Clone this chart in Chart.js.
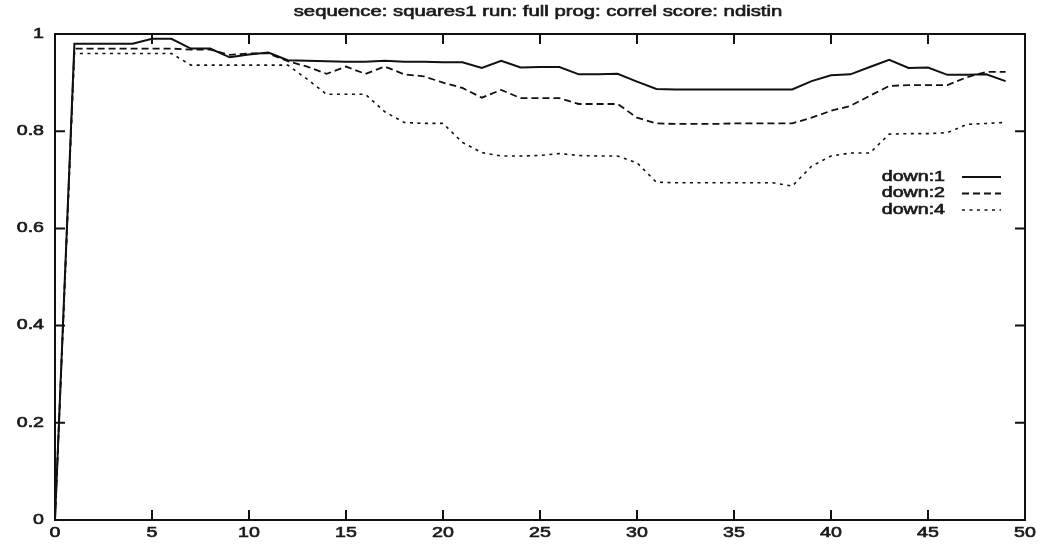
<!DOCTYPE html>
<html>
<head>
<meta charset="utf-8">
<script src="https://cdn.jsdelivr.net/npm/chart.js@4.4.0/dist/chart.umd.min.js"></script>
<style>
  html, body { margin: 0; padding: 0; background: #fff; }
  #wrap { width: 1044px; height: 548px; }
</style>
</head>
<body>
<div id="wrap"><canvas id="myChart1" width="1044" height="548"></canvas></div>
<script>
var titleText = "sequence: squares1 run: full prog: correl score: ndistin";
var seriesNames = ["down:1", "down:2", "down:4"];
var steps = [0, 1, 2, 3, 4, 5, 6, 7, 8, 9, 10, 11, 12, 13, 14, 15, 16, 17, 18, 19, 20, 21, 22, 23, 24,
  25, 26, 27, 28, 29, 30, 31, 32, 33, 34, 35, 36, 37, 38, 39, 40, 41, 42, 43, 44, 45, 46, 47, 48, 49];
var down1 = [0, 0.98, 0.98, 0.98, 0.98, 0.99, 0.99, 0.97, 0.97, 0.952, 0.958, 0.962, 0.946, 0.945, 0.944,
  0.943, 0.943, 0.945, 0.943, 0.943, 0.942, 0.942, 0.93, 0.945, 0.931, 0.932, 0.932, 0.917, 0.917, 0.918,
  0.902, 0.887, 0.886, 0.886, 0.886, 0.886, 0.886, 0.886, 0.886, 0.903, 0.915, 0.917, 0.932, 0.947, 0.93,
  0.931, 0.916, 0.916, 0.917, 0.903];
var down2 = [0, 0.97, 0.97, 0.97, 0.97, 0.97, 0.97, 0.968, 0.968, 0.957, 0.96, 0.96, 0.944, 0.933, 0.918,
  0.933, 0.918, 0.933, 0.917, 0.913, 0.9, 0.889, 0.869, 0.885, 0.868, 0.868, 0.868, 0.856, 0.856, 0.856,
  0.828, 0.816, 0.815, 0.815, 0.815, 0.816, 0.816, 0.816, 0.816, 0.828, 0.842, 0.852, 0.873, 0.893, 0.895,
  0.895, 0.895, 0.911, 0.922, 0.922];
var down4 = [0, 0.96, 0.96, 0.96, 0.96, 0.96, 0.96, 0.936, 0.936, 0.936, 0.936, 0.936, 0.936, 0.907, 0.876,
  0.876, 0.876, 0.84, 0.818, 0.816, 0.816, 0.777, 0.756, 0.749, 0.749, 0.75, 0.754, 0.75, 0.749, 0.749,
  0.735, 0.695, 0.694, 0.694, 0.694, 0.694, 0.694, 0.694, 0.687, 0.728, 0.749, 0.755, 0.755, 0.794, 0.795,
  0.795, 0.797, 0.814, 0.816, 0.818];
var xTicks = [0, 5, 10, 15, 20, 25, 30, 35, 40, 45, 50];
var yTicks = [0, 0.2, 0.4, 0.6, 0.8, 1];

var FONT = '"Liberation Sans", Arial, sans-serif';
var STRETCH = 1.4;

function pts(ys) {
  return steps.map(function (x, i) { return { x: x, y: ys[i] }; });
}

// wide, slightly heavy text like the old postscript output
function wideText(ctx, txt, x, y, size, align) {
  ctx.save();
  ctx.font = size + 'px ' + FONT;
  ctx.fillStyle = '#1a1a1a';
  ctx.strokeStyle = '#1a1a1a';
  ctx.lineWidth = 0.6;
  ctx.textBaseline = 'middle';
  ctx.textAlign = align;
  ctx.translate(x, y);
  ctx.scale(STRETCH, 1);
  ctx.fillText(txt, 0, 0);
  ctx.strokeText(txt, 0, 0);
  ctx.restore();
}

var gnuplotFrame = {
  id: 'gnuplotFrame',
  afterDraw: function (chart) {
    var ctx = chart.ctx;
    var a = chart.chartArea;
    var xs = chart.scales.x, ys = chart.scales.y;
    ctx.save();
    ctx.strokeStyle = '#111';
    ctx.lineWidth = 2;
    ctx.setLineDash([]);
    ctx.strokeRect(a.left, a.top, a.right - a.left, a.bottom - a.top);

    var tl = 10;
    ctx.beginPath();
    xTicks.forEach(function (v) {
      var px = xs.getPixelForValue(v);
      ctx.moveTo(px, a.bottom); ctx.lineTo(px, a.bottom - tl);
      ctx.moveTo(px, a.top); ctx.lineTo(px, a.top + tl);
    });
    yTicks.forEach(function (v) {
      var py = ys.getPixelForValue(v);
      ctx.moveTo(a.left, py); ctx.lineTo(a.left + tl, py);
      ctx.moveTo(a.right, py); ctx.lineTo(a.right - tl, py);
    });
    ctx.stroke();
    ctx.restore();

    xTicks.forEach(function (v) {
      wideText(ctx, String(v), xs.getPixelForValue(v), a.bottom + 13, 14, 'center');
    });
    yTicks.forEach(function (v) {
      wideText(ctx, String(v), a.left - 11, ys.getPixelForValue(v), 14, 'right');
    });

    wideText(ctx, titleText, 538, 12, 14.5, 'center');

    // key, text on the left and line sample on the right
    chart.data.datasets.forEach(function (ds, i) {
      var y = 177 + i * 16.5;
      wideText(ctx, ds.label, 945, y, 14, 'right');
      ctx.save();
      ctx.strokeStyle = ds.borderColor;
      ctx.lineWidth = ds.borderWidth;
      ctx.setLineDash(ds.borderDash || []);
      ctx.beginPath();
      ctx.moveTo(962, y);
      ctx.lineTo(1001, y);
      ctx.stroke();
      ctx.restore();
    });
  }
};

var ctx = document.getElementById('myChart1').getContext('2d');
var myChart = new Chart(ctx, {
  type: 'line',
  data: {
    datasets: [{
      label: seriesNames[0],
      data: pts(down1),
      borderColor: '#111',
      borderWidth: 2,
      borderDash: [],
    }, {
      label: seriesNames[1],
      data: pts(down2),
      borderColor: '#111',
      borderWidth: 1.8,
      borderDash: [7, 4],
    }, {
      label: seriesNames[2],
      data: pts(down4),
      borderColor: '#111',
      borderWidth: 1.6,
      borderDash: [3, 4.5],
    }]
  },
  options: {
    responsive: false,
    animation: false,
    layout: { padding: { top: 34, right: 19, left: 0, bottom: 0 } },
    elements: { point: { radius: 0 }, line: { tension: 0 } },
    plugins: { legend: { display: false }, title: { display: false }, tooltip: { enabled: false } },
    scales: {
      x: {
        type: 'linear', min: 0, max: 50,
        ticks: { display: false, stepSize: 5 },
        grid: { display: false },
        border: { display: false },
        afterFit: function (s) { s.height = 28; }
      },
      y: {
        min: 0, max: 1,
        ticks: { display: false, stepSize: 0.2 },
        grid: { display: false },
        border: { display: false },
        afterFit: function (s) { s.width = 55; }
      }
    }
  },
  plugins: [gnuplotFrame]
});
</script>
</body>
</html>
